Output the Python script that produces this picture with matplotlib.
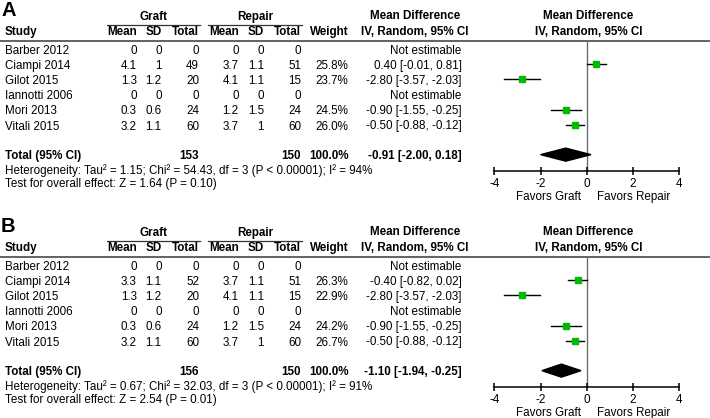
import matplotlib
matplotlib.use("Agg")
import matplotlib.pyplot as plt

plt.rcParams['font.family'] = ['Liberation Sans', 'DejaVu Sans']
plt.rcParams['axes.unicode_minus'] = False

# Data
studies = ["Barber 2012", "Ciampi 2014", "Gilot 2015", "Iannotti 2006", "Mori 2013", "Vitali 2015"]

repair_mean = [0, 3.7, 4.1, 0, 1.2, 3.7]
repair_sd = [0, 1.1, 1.1, 0, 1.5, 1]
repair_n = [0, 51, 15, 0, 24, 60]

# panel A
graft_mean_a = [0, 4.1, 1.3, 0, 0.3, 3.2]
graft_sd_a = [0, 1, 1.2, 0, 0.6, 1.1]
graft_n_a = [0, 49, 20, 0, 24, 60]
weight_a = [None, 25.8, 23.7, None, 24.5, 26.0]
md_a = [None, 0.40, -2.80, None, -0.90, -0.50]
lo_a = [None, -0.01, -3.57, None, -1.55, -0.88]
hi_a = [None, 0.81, -2.03, None, -0.25, -0.12]
total_a = [153, 150, -0.91, -2.00, 0.18]
het_a = "Heterogeneity: Tau\u00b2 = 1.15; Chi\u00b2 = 54.43, df = 3 (P < 0.00001); I\u00b2 = 94%"
test_a = "Test for overall effect: Z = 1.64 (P = 0.10)"

# panel B
graft_mean_b = [0, 3.3, 1.3, 0, 0.3, 3.2]
graft_sd_b = [0, 1.1, 1.2, 0, 0.6, 1.1]
graft_n_b = [0, 52, 20, 0, 24, 60]
weight_b = [None, 26.3, 22.9, None, 24.2, 26.7]
md_b = [None, -0.40, -2.80, None, -0.90, -0.50]
lo_b = [None, -0.82, -3.57, None, -1.55, -0.88]
hi_b = [None, 0.02, -2.03, None, -0.25, -0.12]
total_b = [156, 150, -1.10, -1.94, -0.25]
het_b = "Heterogeneity: Tau\u00b2 = 0.67; Chi\u00b2 = 32.03, df = 3 (P < 0.00001); I\u00b2 = 91%"
test_b = "Test for overall effect: Z = 2.54 (P = 0.01)"

ticks = [-4, -2, 0, 2, 4]

# Layout (pixels)
W, H = 710, 418
FS = 8.4
ROW0, PITCH = 49.0, 15.2
TOTAL_ROW = 6.95
GREEN = '#00bb00'

fig = plt.figure(figsize=(W / 100, H / 100), dpi=100)
page = fig.add_axes([0, 0, 1, 1])
page.set_xlim(0, W)
page.set_ylim(H, 0)
page.axis('off')

cols = [136.7, 161.7, 199, 238.7, 264, 301, 348.3]


def txt(x, y, s, ha='right', bold=False, size=FS):
    page.text(x, y, s, ha=ha, va='center', fontsize=size,
              fontweight='bold' if bold else 'normal')


def panel(top, label, g_mean, g_sd, g_n, weight, md, lo, hi, total, het, test):
    ty = lambda i: top + ROW0 + PITCH * i + 1.5

    txt(1, top + 11, label, ha='left', bold=True, size=14.5)
    txt(153, top + 17, "Graft", ha='center', bold=True)
    txt(255, top + 17, "Repair", ha='center', bold=True)
    page.plot([106.7, 200], [top + 25, top + 25], color='#333333', lw=0.9)
    page.plot([208.3, 301.7], [top + 25, top + 25], color='#333333', lw=0.9)

    hdr = ["Mean", "SD", "Total", "Mean", "SD", "Total", "Weight"]
    txt(5, top + 32, "Study", ha='left', bold=True)
    for x, h in zip(cols, hdr):
        txt(x, top + 32, h, bold=True)
    for xc in (415, 588.3):
        txt(xc, top + 16, "Mean Difference", ha='center', bold=True)
        txt(xc, top + 32, "IV, Random, 95% CI", ha='center', bold=True)
    page.plot([0, W], [top + 40.7, top + 40.7], color='#484848', lw=1.2)

    for i, s in enumerate(studies):
        y = ty(i)
        txt(5, y, s, ha='left')
        vals = [g_mean[i], g_sd[i], g_n[i], repair_mean[i], repair_sd[i], repair_n[i]]
        for x, v in zip(cols, vals):
            txt(x, y, f"{v:g}")
        if weight[i] is not None:
            txt(cols[6], y, f"{weight[i]:.1f}%")
            txt(461.7, y, f"{md[i]:.2f} [{lo[i]:.2f}, {hi[i]:.2f}]")
        else:
            txt(461.7, y, "Not estimable")

    yt = ty(TOTAL_ROW)
    txt(5, yt, "Total (95% CI)", ha='left', bold=True)
    txt(cols[2], yt, str(total[0]), bold=True)
    txt(cols[5], yt, str(total[1]), bold=True)
    txt(cols[6], yt, "100.0%", bold=True)
    txt(461.7, yt, f"{total[2]:.2f} [{total[3]:.2f}, {total[4]:.2f}]", bold=True)
    txt(5, top + 170.5, het, ha='left')
    txt(5, top + 183.5, test, ha='left')

    # forest plot
    x0, x1 = 494.3, 679.3
    ytop, ybot = top + 40.7, top + 171.3
    ax = fig.add_axes([x0 / W, 1 - ybot / H, (x1 - x0) / W, (ybot - ytop) / H])
    ax.patch.set_alpha(0)
    ax.set_xlim(-4, 4)
    ax.set_ylim((ybot - top - ROW0) / PITCH, (ytop - top - ROW0) / PITCH)
    for sp in ['top', 'left', 'right']:
        ax.spines[sp].set_visible(False)
    ax.spines['bottom'].set_linewidth(1.1)
    ax.set_yticks([])
    ax.set_xticks(ticks)
    ax.set_xticklabels([str(t) for t in ticks], fontsize=FS)
    ax.tick_params(axis='x', direction='inout', length=6, width=1.1, pad=1.6)
    ax.axvline(0, color='#6e6e6e', lw=1.0, zorder=1)

    for i in range(len(studies)):
        if md[i] is None:
            continue
        ax.plot([lo[i], hi[i]], [i, i], color='black', lw=1.0, zorder=2)
        ax.plot(md[i], i, 's', color=GREEN, ms=4.0 * (weight[i] / 25.0) ** 0.5,
                mec=GREEN, zorder=3)

    h = 0.43
    ax.fill([total[3], total[2], total[4], total[2]],
            [TOTAL_ROW, TOTAL_ROW - h, TOTAL_ROW, TOTAL_ROW + h],
            color='black', zorder=3, clip_on=False)

    txt(548.3, top + 196.8, "Favors Graft", ha='center')
    txt(633.3, top + 196.8, "Favors Repair", ha='center')


panel(0, "A", graft_mean_a, graft_sd_a, graft_n_a, weight_a, md_a, lo_a, hi_a,
      total_a, het_a, test_a)
panel(216, "B", graft_mean_b, graft_sd_b, graft_n_b, weight_b, md_b, lo_b, hi_b,
      total_b, het_b, test_b)

fig.savefig("out.png", dpi=100)
